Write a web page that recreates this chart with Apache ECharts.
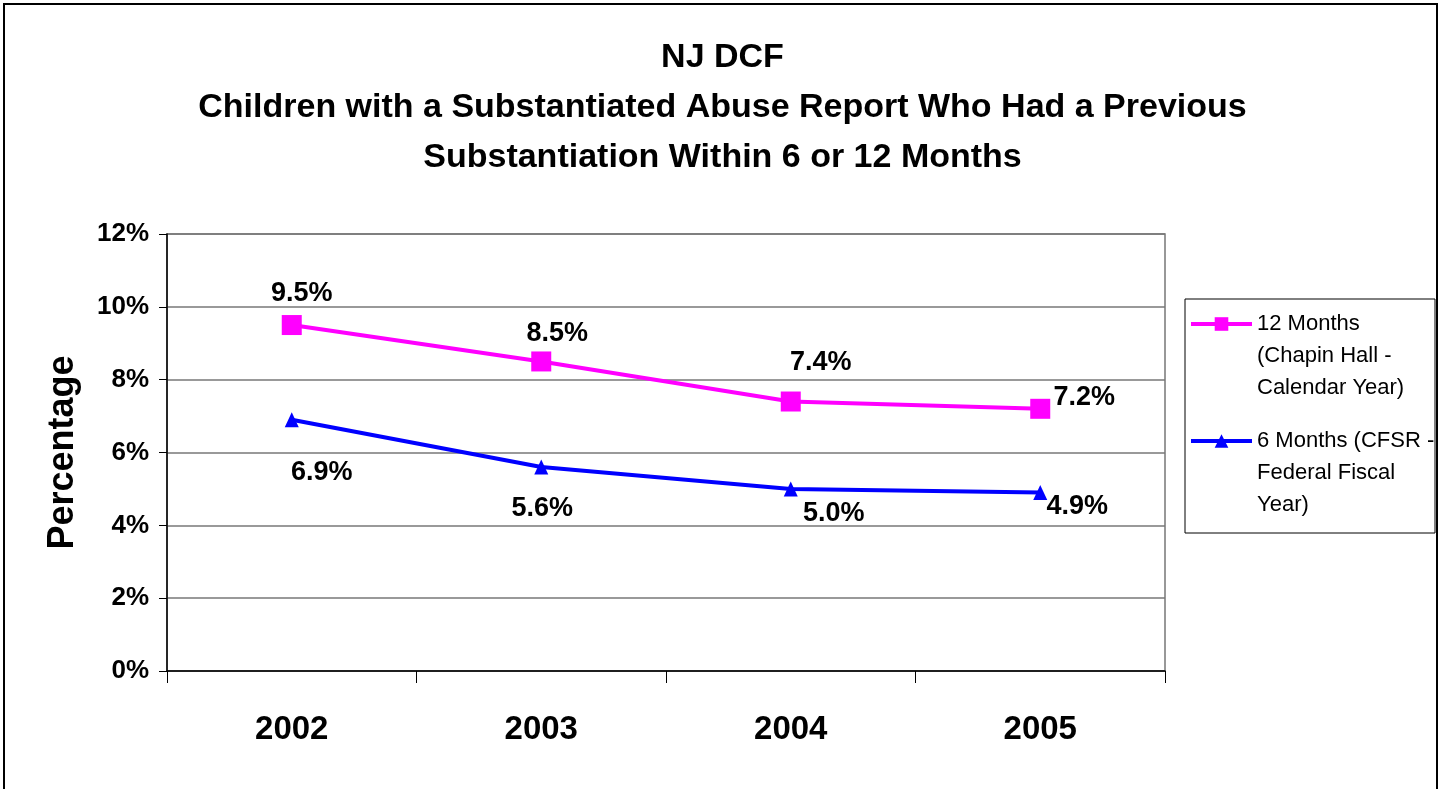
<!DOCTYPE html>
<html lang="en">
<head>
    <meta charset="utf-8">
    <title>NJ DCF repeat maltreatment</title>
    <script src="https://cdn.jsdelivr.net/npm/echarts@6/dist/echarts.min.js"></script>
    <style type="text/css">
    html, body { margin: 0; padding: 0; background: #fff; }
    #chart { width: 1445px; height: 789px; }
    </style>
</head>
<body>
    <div id="chart"></div>
    <script type="text/javascript">
    // data
    var years = ['2002', '2003', '2004', '2005'];
    var months12 = [9.5, 8.5, 7.4, 7.2];
    var months6 = [6.9, 5.6, 5.0, 4.9];
    var yTicks = { min: 0, max: 12, step: 2 };
    var name12 = '12 Months\n(Chapin Hall -\nCalendar Year)';
    var name6 = '6 Months (CFSR -\nFederal Fiscal\nYear)';

    // label placement relative to each marker centre (px)
    var off12 = [[10, -31], [16, -28], [30, -39], [44, -11]];
    var off6 = [[30, 53], [1, 41], [43, 25], [37, 14]];

    var FONT = '"Liberation Sans", Arial, sans-serif';

    function withLabels(vals, offs) {
        return vals.map(function (v, i) {
            return { value: v, label: { offset: offs[i] } };
        });
    }

    function pct(p) { return p.value.toFixed(1) + '%'; }

    var chart = echarts.init(document.getElementById('chart'), null, { renderer: 'canvas' });

    chart.setOption({
        backgroundColor: '#fff',
        animation: false,
        textStyle: { fontFamily: FONT },
        title: {
            text: 'NJ DCF\nChildren with a Substantiated Abuse Report Who Had a Previous\nSubstantiation Within 6 or 12 Months',
            left: 'center',
            top: 28,
            textStyle: { fontSize: 34, fontWeight: 'bold', color: '#000', lineHeight: 50, fontFamily: FONT }
        },
        graphic: [{
            // outer frame
            type: 'rect',
            shape: { x: 4, y: 4, width: 1433, height: 800 },
            style: { fill: 'none', stroke: '#000', lineWidth: 2 },
            silent: true
        }, {
            // legend frame
            type: 'rect',
            shape: { x: 1185, y: 299, width: 250, height: 234 },
            style: { fill: 'none', stroke: '#000', lineWidth: 1 },
            silent: true
        }],
        legend: {
            orient: 'vertical',
            left: 1189,
            top: 244,
            padding: 0,
            itemGap: -43,
            itemWidth: 61,
            itemHeight: 17,
            lineStyle: { width: 4 },
            data: [name12, name6],
            // two blank lines on top so the icon sits beside the first line
            formatter: function (name) { return '\n\n' + name; },
            textStyle: {
                fontSize: 22,
                color: '#000',
                lineHeight: 32,
                fontFamily: FONT
            }
        },
        grid: {
            left: 167,
            right: 280,
            top: 234,
            bottom: 118,
            show: true,
            borderColor: '#777',
            borderWidth: 1.5
        },
        xAxis: {
            type: 'category',
            data: years,
            boundaryGap: true,
            axisLine: { lineStyle: { color: '#000', width: 1.5 } },
            axisTick: { show: true, length: 12, lineStyle: { color: '#000' } },
            axisLabel: { fontSize: 33, fontWeight: 'bold', color: '#000', margin: 42, fontFamily: FONT },
            splitLine: { show: false }
        },
        yAxis: {
            type: 'value',
            min: yTicks.min,
            max: yTicks.max,
            interval: yTicks.step,
            name: 'Percentage',
            nameLocation: 'middle',
            nameGap: 86,
            nameRotate: 90,
            nameTextStyle: { fontSize: 36, fontWeight: 'bold', color: '#000', fontFamily: FONT },
            axisLine: { show: true, lineStyle: { color: '#000', width: 1.5 } },
            axisTick: { show: true, length: 8, lineStyle: { color: '#000' } },
            axisLabel: {
                fontSize: 26, fontWeight: 'bold', color: '#000', margin: 18, fontFamily: FONT,
                formatter: '{value}%'
            },
            splitLine: { show: true, lineStyle: { color: '#777', width: 1.5 } }
        },
        series: [{
            name: name12,
            type: 'line',
            data: withLabels(months12, off12),
            color: '#FF00FF',
            symbol: 'rect',
            symbolSize: 20,
            lineStyle: { width: 4, color: '#FF00FF' },
            itemStyle: { color: '#FF00FF' },
            label: {
                show: true,
                position: 'inside',
                fontSize: 27,
                fontWeight: 'bold',
                color: '#000',
                fontFamily: FONT,
                formatter: pct
            },
            z: 3
        }, {
            name: name6,
            type: 'line',
            data: withLabels(months6, off6),
            color: '#0000FF',
            symbol: 'triangle',
            symbolSize: [14, 15],
            lineStyle: { width: 4, color: '#0000FF' },
            itemStyle: { color: '#0000FF' },
            label: {
                show: true,
                position: 'inside',
                fontSize: 27,
                fontWeight: 'bold',
                color: '#000',
                fontFamily: FONT,
                formatter: pct
            },
            z: 2
        }]
    });
    </script>
</body>
</html>
